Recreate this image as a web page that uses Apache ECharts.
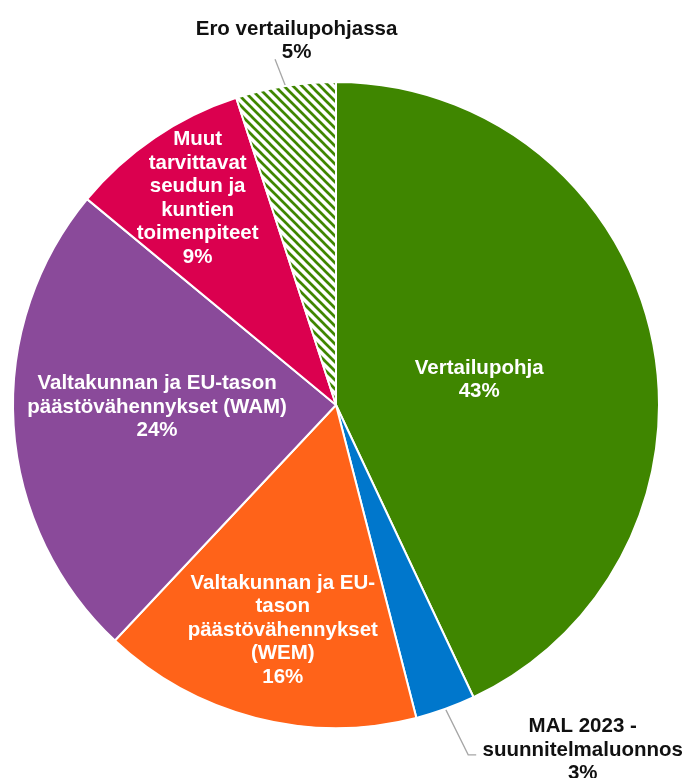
<!DOCTYPE html>
<html>
<head>
    <meta charset="utf-8">
    <title>Päästövähennykset</title>
    <script src="https://cdn.jsdelivr.net/npm/echarts@6/dist/echarts.min.js"></script>
    <style>
        html, body { margin: 0; padding: 0; background: #fff; }
    </style>
</head>
<body>
    <div id="main" style="width: 685px;height:778px;"></div>
    <script type="text/javascript">
        // data, clockwise from 12 o'clock
        var categories = [
            'Vertailupohja',
            'MAL 2023 -\nsuunnitelmaluonnos',
            'Valtakunnan ja EU-\ntason\npäästövähennykset\n(WEM)',
            'Valtakunnan ja EU-tason\npäästövähennykset (WAM)',
            'Muut\ntarvittavat\nseudun ja\nkuntien\ntoimenpiteet',
            'Ero vertailupohjassa'
        ];
        var values = [43, 3, 16, 24, 9, 5];
        var colors = ['#3F8600', '#0077CC', '#FF6319', '#8A4A9A', '#DB004F', null];

        var cx = 336, cy = 405, R = 323;
        var total = values.reduce(function (a, b) { return a + b; }, 0);

        // label placement: [radius factor, angle shift in degrees] for inside labels
        var insideSpot = { 0: [0.45, 2.7], 2: [0.716, -1.1], 3: [0.554, 3], 4: [0.77, 0.4] };

        // hatch pattern for the last slice
        var tile = document.createElement('canvas');
        tile.width = tile.height = 9;
        var g = tile.getContext('2d');
        g.fillStyle = '#fff';
        g.fillRect(0, 0, 9, 9);
        g.strokeStyle = '#3F8600';
        g.lineWidth = 2.7;
        g.beginPath();
        g.moveTo(-2, -2); g.lineTo(11, 11);
        g.moveTo(-2, 7); g.lineTo(2, 11);
        g.moveTo(7, -2); g.lineTo(11, 2);
        g.stroke();

        function midAngle(i) {
            var s = 0;
            for (var k = 0; k < i; k++) s += values[k];
            return (s + values[i] / 2) / total * 360;
        }
        function pt(deg, r) {
            var a = deg * Math.PI / 180;
            return [cx + r * Math.sin(a), cy - r * Math.cos(a)];
        }

        var seriesData = categories.map(function (name, i) {
            var inside = insideSpot[i] !== undefined;
            return {
                name: name,
                value: values[i],
                itemStyle: { color: colors[i] ? colors[i] : { image: tile, repeat: 'repeat' } },
                label: {
                    position: inside ? 'inside' : 'outside',
                    color: inside ? '#fff' : '#111'
                },
                labelLine: { show: !inside }
            };
        });

        var myChart = echarts.init(document.getElementById('main'));
        var option = {
            animation: false,
            series: [{
                type: 'pie',
                center: [cx, cy],
                radius: [0, R],
                startAngle: 90,
                clockwise: true,
                avoidLabelOverlap: false,
                itemStyle: { borderColor: '#fff', borderWidth: 2 },
                label: {
                    show: true,
                    fontFamily: 'Liberation Sans, Arial, sans-serif',
                    fontWeight: 'bold',
                    fontSize: 20.5,
                    lineHeight: 23.5,
                    align: 'center',
                    formatter: function (p) { return p.name + '\n' + Math.round(p.value) + '%'; }
                },
                labelLine: { lineStyle: { color: '#a6a6a6', width: 1.3 } },
                labelLayout: function (p) {
                    var i = p.dataIndex;
                    var m = midAngle(i);
                    if (insideSpot[i]) {
                        var s = insideSpot[i];
                        var q = pt(m + s[1], R * s[0]);
                        return { x: q[0], y: q[1], align: 'center', verticalAlign: 'middle' };
                    }
                    var edge = pt(m, R);
                    if (i === 5) {
                        var top = pt(m - 1, R + 28);
                        return {
                            x: top[0] + 21.5, y: top[1] - 18.5,
                            align: 'center', verticalAlign: 'middle',
                            labelLinePoints: [edge, top, top]
                        };
                    }
                    var elbow = pt(m - 0.9, R + 51);
                    return {
                        x: elbow[0] + 114.5, y: elbow[1] - 5,
                        align: 'center', verticalAlign: 'middle',
                        labelLinePoints: [edge, elbow, [elbow[0] + 8, elbow[1]]]
                    };
                },
                data: seriesData
            }]
        };
        myChart.setOption(option);
    </script>
</body>
</html>
